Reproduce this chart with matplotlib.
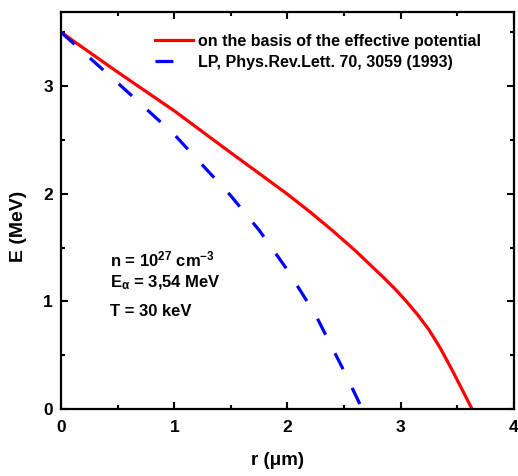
import matplotlib
matplotlib.use('Agg')
import matplotlib.pyplot as plt
from matplotlib.ticker import MultipleLocator

plt.rcParams['font.family'] = 'Liberation Sans'
plt.rcParams['font.weight'] = 'bold'
plt.rcParams['mathtext.fontset'] = 'custom'
plt.rcParams['mathtext.rm'] = 'Liberation Sans:bold'
plt.rcParams['mathtext.bf'] = 'Liberation Sans:bold'
plt.rcParams['mathtext.default'] = 'bf'

# curves
r_eff = [0.0, 0.5, 1.0, 1.5, 1.8, 2.0, 2.2, 2.4, 2.6, 2.75, 2.85, 2.95, 3.05, 3.15,
         3.25, 3.35, 3.45, 3.55, 3.63]
E_eff = [3.5, 3.13, 2.77, 2.38, 2.15, 1.995, 1.83, 1.655, 1.47, 1.32, 1.22, 1.115, 1.0,
         0.875, 0.735, 0.565, 0.37, 0.165, 0.0]

r_lp = [0.0, 0.5, 1.0, 1.5, 1.75, 2.0, 2.25, 2.5, 2.66]
E_lp = [3.5, 3.03, 2.55, 1.98, 1.66, 1.29, 0.87, 0.35, 0.0]

fig = plt.figure(figsize=(5.18, 4.76), dpi=100)
ax = fig.add_axes([0.118, 0.141, 0.874, 0.834])

ax.plot(r_eff, E_eff, color='#ff0000', lw=2.3, label='on the basis of the effective potential')
ax.plot(r_lp, E_lp, color='#0000ff', lw=2.3, dashes=(5.6, 6.5),
        label='LP, Phys.Rev.Lett. 70, 3059 (1993)')

ax.set_xlim(0, 4)
ax.set_ylim(0, 3.69)
ax.xaxis.set_major_locator(MultipleLocator(1))
ax.xaxis.set_minor_locator(MultipleLocator(0.5))
ax.yaxis.set_major_locator(MultipleLocator(1))
ax.yaxis.set_minor_locator(MultipleLocator(0.5))
ax.tick_params(which='both', direction='in', top=True, right=True, width=1.5, labelsize=12.5)
ax.tick_params(which='major', length=5)
ax.tick_params(axis='x', which='major', pad=8)
ax.tick_params(axis='y', which='major', pad=6)
ax.tick_params(which='minor', length=3)
for s in ax.spines.values():
    s.set_linewidth(1.6)

ax.set_xlabel('r (μm)', fontsize=13.5, fontweight='bold')
ax.set_ylabel('E (MeV)', fontsize=14, fontweight='bold')
ax.xaxis.set_label_coords(0.479, -0.108)
ax.yaxis.set_label_coords(-0.075, 0.46)

ax.legend(loc='upper left', bbox_to_anchor=(0.2075, 0.945), frameon=False, fontsize=11.5,
          borderpad=0, borderaxespad=0, handlelength=2.4, handletextpad=0.3,
          labelspacing=0.37)

ax.text(0.108, 0.360, r'n = 10$^{27}$ cm$^{-3}$', transform=ax.transAxes, fontsize=12)
ax.text(0.108, 0.307, r'E$_{\alpha}$ = 3,54 MeV', transform=ax.transAxes, fontsize=12)
ax.text(0.108, 0.234, 'T = 30 keV', transform=ax.transAxes, fontsize=12)

fig.savefig('out.png', dpi=100)
